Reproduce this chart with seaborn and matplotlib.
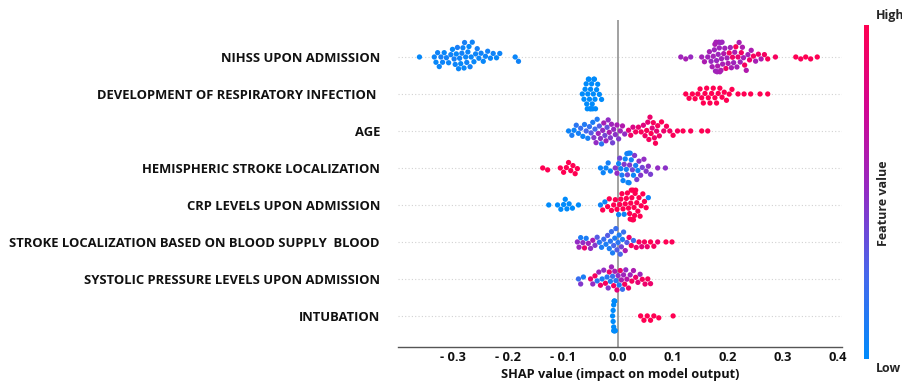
import matplotlib
matplotlib.use("Agg")
import matplotlib.pyplot as plt
import numpy as np
import pandas as pd
import seaborn as sns
from matplotlib.colors import LinearSegmentedColormap, Normalize
from matplotlib.cm import ScalarMappable

features = [
    "NIHSS UPON ADMISSION",
    "DEVELOPMENT OF RESPIRATORY INFECTION ",
    "AGE",
    "HEMISPHERIC STROKE LOCALIZATION",
    "CRP LEVELS UPON ADMISSION",
    "STROKE LOCALIZATION BASED ON BLOOD SUPPLY  BLOOD",
    "SYSTOLIC PRESSURE LEVELS UPON ADMISSION",
    "INTUBATION",
]
xticks = [-0.3, -0.2, -0.1, 0.0, 0.1, 0.2, 0.3, 0.4]
xtick_labels = ["- 0.3", "- 0.2", "- 0.1", "0.0", "0.1", "0.2", "0.3", "0.4"]

# (SHAP value, normalised feature value) per sample
nihss = [
    (-0.361, 0.02), (-0.334, 0.05), (-0.331, 0.03), (-0.328, 0.06), (-0.325, 0.04), (-0.322, 0.08),
    (-0.319, 0.05), (-0.316, 0.03), (-0.312, 0.07), (-0.308, 0.04), (-0.304, 0.06), (-0.301, 0.02),
    (-0.298, 0.08), (-0.296, 0.05), (-0.294, 0.03), (-0.292, 0.09), (-0.290, 0.04), (-0.288, 0.06),
    (-0.286, 0.02), (-0.284, 0.07), (-0.282, 0.05), (-0.280, 0.03), (-0.279, 0.08), (-0.277, 0.04),
    (-0.275, 0.06), (-0.273, 0.05), (-0.271, 0.02), (-0.269, 0.07), (-0.267, 0.04), (-0.265, 0.06),
    (-0.262, 0.03), (-0.259, 0.05), (-0.256, 0.08), (-0.253, 0.04), (-0.249, 0.06), (-0.245, 0.03),
    (-0.241, 0.05), (-0.237, 0.07), (-0.232, 0.04), (-0.227, 0.06), (-0.221, 0.03), (-0.215, 0.05),
    (-0.187, 0.04), (-0.181, 0.06),
    (0.114, 0.55), (0.123, 0.58), (0.132, 0.52), (0.152, 0.56), (0.157, 0.60), (0.163, 0.55),
    (0.166, 0.57), (0.169, 0.53), (0.171, 0.58), (0.173, 0.56), (0.175, 0.54), (0.176, 0.59),
    (0.177, 0.55), (0.178, 0.57), (0.179, 0.53), (0.180, 0.56), (0.181, 0.60), (0.182, 0.54),
    (0.183, 0.58), (0.184, 0.55), (0.185, 0.57), (0.186, 0.53), (0.187, 0.59), (0.188, 0.56),
    (0.189, 0.54), (0.190, 0.58), (0.192, 0.62), (0.194, 0.55), (0.196, 0.90), (0.198, 0.57),
    (0.200, 0.60), (0.202, 0.95), (0.204, 0.56), (0.206, 0.58), (0.208, 0.92), (0.210, 0.55),
    (0.212, 0.60), (0.214, 0.97), (0.216, 0.57), (0.218, 0.88), (0.220, 0.59), (0.222, 0.56),
    (0.224, 0.93), (0.226, 0.60), (0.228, 0.58), (0.230, 0.95), (0.233, 0.62), (0.236, 0.57),
    (0.239, 0.90), (0.242, 0.60), (0.246, 0.96), (0.250, 0.58), (0.255, 0.92), (0.260, 0.61),
    (0.266, 0.94), (0.272, 0.98), (0.286, 0.95), (0.323, 0.99), (0.332, 0.97), (0.341, 1.00),
    (0.350, 0.98), (0.362, 0.99),
]
resp_infection = [
    (-0.065, 0.0), (-0.062, 0.0), (-0.060, 0.0), (-0.058, 0.0), (-0.057, 0.0), (-0.056, 0.0),
    (-0.055, 0.0), (-0.054, 0.0), (-0.053, 0.0), (-0.052, 0.0), (-0.051, 0.0), (-0.050, 0.0),
    (-0.049, 0.0), (-0.048, 0.0), (-0.047, 0.0), (-0.046, 0.0), (-0.045, 0.0), (-0.044, 0.0),
    (-0.043, 0.0), (-0.042, 0.0), (-0.041, 0.0), (-0.039, 0.0), (-0.037, 0.0), (-0.034, 0.0),
    (-0.030, 0.0),
    (0.123, 1.0), (0.129, 1.0), (0.135, 1.0), (0.140, 1.0), (0.145, 1.0), (0.149, 1.0),
    (0.152, 1.0), (0.155, 1.0), (0.158, 1.0), (0.161, 1.0), (0.164, 1.0), (0.167, 1.0),
    (0.170, 1.0), (0.173, 1.0), (0.176, 1.0), (0.179, 1.0), (0.182, 1.0), (0.185, 1.0),
    (0.189, 1.0), (0.193, 1.0), (0.197, 1.0), (0.202, 1.0), (0.207, 1.0), (0.218, 1.0),
    (0.229, 1.0), (0.241, 1.0), (0.258, 1.0), (0.272, 1.0),
]
age = [
    (-0.090, 0.05), (-0.084, 0.10), (-0.080, 0.05), (-0.076, 0.15), (-0.072, 0.08), (-0.068, 0.20),
    (-0.064, 0.05), (-0.061, 0.12), (-0.058, 0.25), (-0.055, 0.08), (-0.052, 0.18), (-0.049, 0.30),
    (-0.046, 0.10), (-0.044, 0.45), (-0.042, 0.22), (-0.040, 0.50), (-0.038, 0.12), (-0.036, 0.55),
    (-0.034, 0.30), (-0.032, 0.48), (-0.030, 0.15), (-0.028, 0.52), (-0.026, 0.58), (-0.024, 0.40),
    (-0.022, 0.55), (-0.020, 0.35), (-0.018, 0.50), (-0.016, 0.60), (-0.014, 0.45), (-0.012, 0.55),
    (-0.010, 0.40), (-0.008, 0.52), (-0.005, 0.48), (-0.002, 0.58), (0.001, 0.45), (0.004, 0.55),
    (0.008, 0.62), (0.012, 0.50),
    (0.019, 0.85), (0.023, 0.92), (0.027, 0.80), (0.032, 0.95), (0.037, 0.88), (0.042, 0.97),
    (0.046, 0.82), (0.049, 0.93), (0.052, 0.98), (0.054, 0.86), (0.056, 0.95), (0.058, 0.90),
    (0.060, 0.99), (0.062, 0.84), (0.064, 0.96), (0.066, 0.91), (0.068, 0.98), (0.070, 0.87),
    (0.072, 0.95), (0.075, 0.92), (0.079, 0.99), (0.083, 0.90), (0.088, 0.96), (0.094, 0.93),
    (0.100, 0.98), (0.108, 0.95), (0.118, 0.99), (0.132, 0.97), (0.152, 1.00), (0.163, 0.98),
]
hemispheric = [
    (-0.137, 1.0), (-0.128, 1.0), (-0.105, 1.0), (-0.099, 1.0), (-0.094, 1.0), (-0.090, 1.0),
    (-0.086, 1.0), (-0.082, 1.0), (-0.078, 1.0), (-0.074, 1.0),
    (-0.032, 0.05), (-0.027, 0.05), (-0.022, 0.05), (-0.018, 0.08), (-0.014, 0.05),
    (-0.005, 0.45), (-0.002, 0.50), (0.001, 0.05), (0.003, 0.40), (0.005, 0.05), (0.007, 0.10),
    (0.009, 0.05), (0.011, 0.45), (0.013, 0.05), (0.015, 0.08), (0.016, 0.05), (0.017, 0.40),
    (0.018, 0.05), (0.019, 0.10), (0.020, 0.05), (0.021, 0.45), (0.022, 0.05), (0.024, 0.08),
    (0.026, 0.40), (0.028, 0.05), (0.030, 0.45), (0.032, 0.10), (0.034, 0.42), (0.036, 0.05),
    (0.038, 0.48), (0.041, 0.45), (0.044, 0.40), (0.047, 0.50), (0.051, 0.45), (0.055, 0.48),
    (0.059, 0.42), (0.072, 0.50), (0.086, 0.48),
]
crp = [
    (-0.126, 0.0), (-0.110, 0.0), (-0.104, 0.0), (-0.099, 0.0), (-0.096, 0.0), (-0.093, 0.0),
    (-0.089, 0.0), (-0.083, 0.0), (-0.072, 0.0),
    (-0.032, 0.05), (-0.028, 1.0), (-0.024, 0.05), (-0.019, 1.0), (-0.016, 1.0),
    (-0.012, 1.0), (-0.008, 1.0), (-0.005, 1.0), (-0.002, 1.0), (0.001, 0.05), (0.003, 1.0),
    (0.005, 1.0), (0.007, 1.0), (0.009, 1.0), (0.011, 0.05), (0.013, 1.0), (0.015, 1.0),
    (0.017, 1.0), (0.019, 1.0), (0.021, 1.0), (0.022, 1.0), (0.023, 1.0), (0.024, 1.0),
    (0.025, 1.0), (0.026, 1.0), (0.027, 1.0), (0.028, 1.0), (0.029, 1.0), (0.030, 1.0),
    (0.031, 1.0), (0.032, 1.0), (0.034, 1.0), (0.036, 1.0), (0.038, 1.0), (0.040, 1.0),
    (0.042, 1.0), (0.045, 1.0), (0.048, 1.0), (0.051, 1.0), (0.055, 0.05),
]
blood_supply = [
    (-0.074, 0.50), (-0.071, 0.55), (-0.068, 0.10), (-0.064, 0.50), (-0.061, 0.90), (-0.058, 0.10),
    (-0.054, 0.55), (-0.050, 0.50), (-0.046, 0.60), (-0.042, 0.45), (-0.038, 0.30), (-0.034, 0.15),
    (-0.030, 0.10), (-0.026, 0.20), (-0.022, 0.10), (-0.019, 0.30), (-0.016, 0.10), (-0.014, 0.15),
    (-0.012, 0.20), (-0.010, 0.10), (-0.008, 0.25), (-0.006, 0.10), (-0.004, 0.20), (-0.002, 0.30),
    (0.000, 0.15), (0.002, 0.10), (0.004, 0.25), (0.006, 0.40), (0.008, 0.10), (0.010, 0.20),
    (0.013, 0.60), (0.016, 0.30), (0.020, 0.90), (0.024, 0.95), (0.028, 0.20), (0.033, 0.90),
    (0.038, 0.95), (0.043, 0.85), (0.048, 0.95), (0.053, 0.90), (0.059, 1.00), (0.065, 0.95),
    (0.072, 0.90), (0.087, 1.00), (0.098, 0.98),
]
systolic = [
    (-0.072, 0.20), (-0.068, 0.45), (-0.063, 0.10), (-0.050, 0.90), (-0.046, 0.50), (-0.042, 0.95),
    (-0.038, 0.15), (-0.035, 0.55), (-0.032, 0.90), (-0.029, 0.10), (-0.026, 0.50), (-0.023, 0.95),
    (-0.020, 0.15), (-0.018, 0.45), (-0.016, 0.90), (-0.014, 0.10), (-0.012, 0.55), (-0.010, 0.20),
    (-0.008, 0.95), (-0.006, 0.60), (-0.004, 0.15), (-0.002, 0.85), (0.000, 0.50), (0.002, 0.10),
    (0.004, 0.90), (0.006, 0.60), (0.008, 0.20), (0.010, 0.55), (0.012, 0.95), (0.014, 0.50),
    (0.016, 0.65), (0.019, 0.90), (0.022, 0.55), (0.025, 0.95), (0.028, 0.60), (0.032, 0.90),
    (0.036, 0.85), (0.040, 0.55), (0.044, 0.95), (0.049, 0.90), (0.054, 0.95), (0.059, 0.90),
]
intubation = [
    (-0.010, 0.0), (-0.009, 0.0), (-0.009, 0.0), (-0.008, 0.0), (-0.008, 0.0), (-0.008, 0.0),
    (-0.007, 0.0), (-0.007, 0.0), (-0.007, 0.0), (-0.006, 0.0), (-0.006, 0.0), (-0.005, 0.0),
    (0.041, 1.0), (0.047, 1.0), (0.053, 1.0), (0.059, 1.0), (0.065, 1.0), (0.074, 1.0),
    (0.100, 1.0),
]

series = [nihss, resp_infection, age, hemispheric, crp, blood_supply, systolic, intubation]
rows = []
for name, pts in zip(features, series):
    for s, v in pts:
        rows.append((name, s, v))
df = pd.DataFrame(rows, columns=["feature", "shap", "fval"])

sns.set_theme(style="white")
plt.rcParams["font.family"] = ["Open Sans", "DejaVu Sans"]

W, H = 903, 383
fig = plt.figure(figsize=(W / 100, H / 100), dpi=100)
ax = fig.add_axes([398 / W, 36 / H, 444 / W, 327 / H])

cmap = LinearSegmentedColormap.from_list(
    "shap_red_blue",
    [(0.0, "#008bfb"), (0.25, "#4668ec"), (0.5, "#922cc4"), (0.75, "#d20592"), (1.0, "#ff0052")],
)

for i in range(len(features)):
    ax.axhline(i, color="#d2d2d2", lw=0.8, dashes=(1, 2), zorder=0)
ax.axvline(0, color="#9a9a9a", lw=1.3, zorder=1)

sns.swarmplot(
    data=df, x="shap", y="feature", order=features, hue="fval",
    palette=cmap, hue_norm=(0, 1), size=3.8, linewidth=0, legend=False,
    orient="h", ax=ax, warn_thresh=1, zorder=3,
)

ax.set_xlim(-0.40, 0.407)
ax.set_ylim(7.84, -1.0)
for sp in ["top", "left", "right"]:
    ax.spines[sp].set_visible(False)
ax.spines["bottom"].set_color("#555555")
ax.spines["bottom"].set_linewidth(1.0)

ax.set_yticks(range(len(features)))
ax.set_yticklabels(features, fontsize=9.4, fontweight="bold", color="#111111")
ax.tick_params(axis="y", length=0, pad=13)
ax.set_xticks(xticks)
ax.set_xticklabels(xtick_labels, fontsize=9.3, fontweight="bold", color="#111111")
ax.tick_params(axis="x", direction="in", length=3, width=0.8, color="#555555", pad=3)
ax.set_ylabel("")
ax.set_xlabel("SHAP value (impact on model output)", fontsize=9.2, fontweight="bold",
              color="#111111", labelpad=3)

cax = fig.add_axes([864 / W, 24 / H, 5 / W, 334 / H])
sm = ScalarMappable(norm=Normalize(0, 1), cmap=cmap)
cb = fig.colorbar(sm, cax=cax)
cb.outline.set_visible(False)
cax.set_yticks([])
fig.text(876 / W, 1 - 16 / H, "High", fontsize=9, fontweight="bold", ha="left", va="center")
fig.text(876 / W, 1 - 368 / H, "Low", fontsize=9, fontweight="bold", ha="left", va="center")
fig.text(884 / W, 1 - 203 / H, "Feature value", fontsize=9, fontweight="bold",
         rotation=90, ha="center", va="center")

fig.savefig("out.png", dpi=100)
